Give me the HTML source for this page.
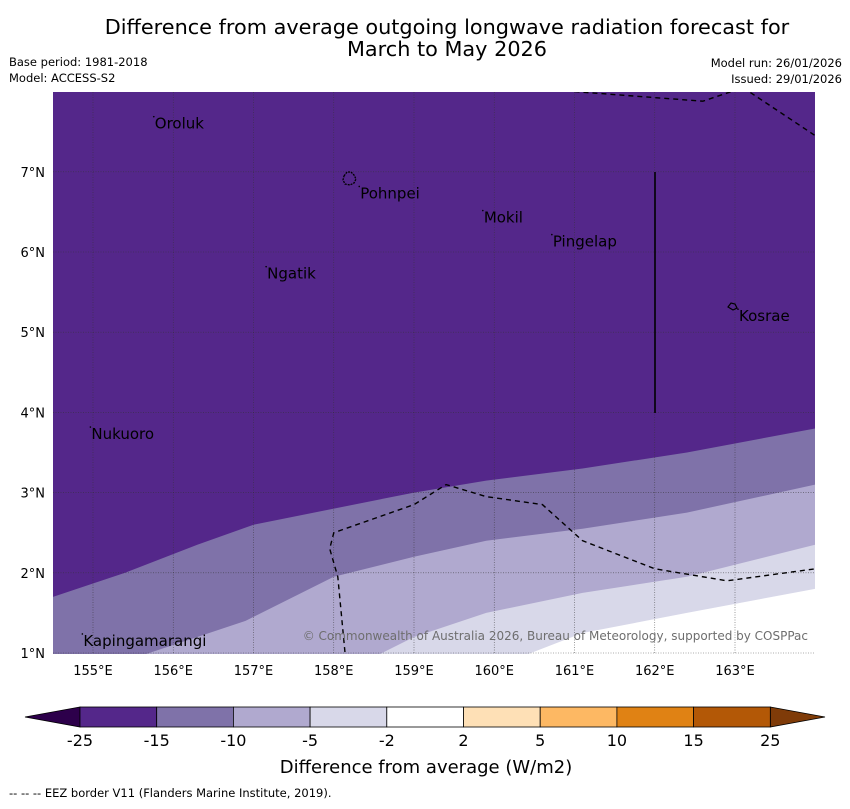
<!DOCTYPE html>
<html><head><meta charset="utf-8">
<style>
body{margin:0;background:#fff;font-family:"Liberation Sans","DejaVu Sans",sans-serif;}
svg text{font-family:"DejaVu Sans","Liberation Sans",sans-serif;}
</style></head>
<body>
<svg id="chart" width="850" height="804" viewBox="0 0 850 804">
<text x="447" y="34" font-size="20.8" text-anchor="middle">Difference from average outgoing longwave radiation forecast for</text>
<text x="447" y="56" font-size="20.8" text-anchor="middle">March to May 2026</text>
<text x="9" y="66" font-size="11.5">Base period: 1981-2018</text>
<text x="9" y="82" font-size="11.5">Model: ACCESS-S2</text>
<text x="842" y="67" font-size="11.5" text-anchor="end">Model run: 26/01/2026</text>
<text x="842" y="83" font-size="11.5" text-anchor="end">Issued: 29/01/2026</text>
<defs><clipPath id="mapclip"><rect x="53" y="92" width="762" height="562"/></clipPath></defs>
<g id="map" clip-path="url(#mapclip)">
<rect x="53" y="92" width="762" height="562" fill="#54278a"/>
<g id="bands"></g>
<g id="grid"></g>
<g id="eez"></g>
</g>
<g id="axes"></g>
<line x1="655" y1="172" x2="655" y2="413" stroke="#000" stroke-width="1.6"/>
<g id="places"></g>
<path d="M344,176 l3,-4 4,0 3,3 2,4 -2,4 -4,2 -5,-1 -2,-4z" fill="none" stroke="#000" stroke-width="1.3" stroke-dasharray="2,1"/>
<path d="M728,307 l3,-4 4,1 2,4 -4,2z" fill="none" stroke="#000" stroke-width="1.2"/>
<text x="808" y="640" font-size="12" fill="#6e6e6e" text-anchor="end">© Commonwealth of Australia 2026, Bureau of Meteorology, supported by COSPPac</text>
<g id="colorbar"></g>
<text x="426" y="773" font-size="18" text-anchor="middle">Difference from average (W/m2)</text>
<text x="9" y="797" font-size="11.5">--  --  -- EEZ border V11 (Flanders Marine Institute, 2019).</text>
</svg>
<script>
const lonTicks=[155,156,157,158,159,160,161,162,163];
const latTicks=[1,2,3,4,5,6,7];
const bandColors=["#7f72a9","#b0a9cf","#d8d8e9","#ffffff"];
const bandNames=["band-minus15-to-minus10","band-minus10-to-minus5","band-minus5-to-minus2","band-minus2-to-2"];
const contour1=[[154.5,1.7],[155.4,2.0],[156.3,2.35],[157.0,2.6],[158.0,2.8],[159.0,3.0],[159.9,3.15],[161.1,3.3],[162.4,3.5],[164.0,3.8]];
const contour2=[[155.4,0.9],[156.9,1.4],[158.0,1.95],[159.0,2.2],[159.9,2.4],[161.1,2.55],[162.4,2.75],[164.0,3.1]];
const contour3=[[158.4,0.9],[159.0,1.2],[159.9,1.5],[161.1,1.75],[162.4,1.95],[164.0,2.35]];
const contour4=[[160.2,0.9],[161.1,1.25],[162.4,1.5],[164.0,1.8]];
const eezMain=[[158.15,0.9],[158.05,1.95],[157.95,2.3],[158.0,2.5],[159.0,2.85],[159.4,3.1],[159.9,2.95],[160.6,2.85],[161.1,2.4],[162.0,2.05],[162.9,1.9],[164.0,2.05]];
const eezTop=[[161.0,8.0],[162.6,7.88],[163.1,8.05],[164.0,7.45]];
const placeNames=["Oroluk","Pohnpei","Mokil","Pingelap","Ngatik","Kosrae","Nukuoro","Kapingamarangi"];
const placeLon=[155.77,158.33,159.87,160.73,157.17,163.05,154.98,154.88];
const placeLat=[7.6,6.73,6.43,6.13,5.73,5.2,3.73,1.15];
const cbLabels=["-25","-15","-10","-5","-2","2","5","10","15","25"];
const cbColors=["#54278a","#7f72a9","#b0a9cf","#d8d8e9","#ffffff","#fee0b6","#fdb863","#e08214","#b35806"];
const X=lon=>93+(lon-155)*80.25, Y=lat=>653-(lat-1)*80.2;
const NS="http://www.w3.org/2000/svg";
function mk(tag,attrs,parent){const e=document.createElementNS(NS,tag);for(const k in attrs)e.setAttribute(k,attrs[k]);parent.appendChild(e);return e;}
const pts=a=>a.map(p=>X(p[0]).toFixed(1)+","+Y(p[1]).toFixed(1));
const bands=document.getElementById('bands');
[contour1,contour2,contour3,contour4].forEach((c,i)=>{
  const d="M"+pts(c).join(" L")+" L"+X(164.2)+","+Y(0.8)+" L"+X(154.4)+","+Y(0.8)+" L"+X(154.4)+","+Y(c[0][1])+"Z";
  const p=mk('path',{d:d,fill:bandColors[i]},bands);
  
  
});
const grid=document.getElementById('grid'),axes=document.getElementById('axes');
lonTicks.forEach(l=>{
  const g=mk('line',{x1:X(l),x2:X(l),y1:92,y2:654,stroke:"#333",'stroke-width':0.6,'stroke-dasharray':'1,1.5','stroke-opacity':0.8},grid);
  
  
  const t=mk('text',{x:X(l),y:675,'font-size':13,'text-anchor':'middle'},axes);t.textContent=l+"°E";
  
  
});
latTicks.forEach(l=>{
  const g=mk('line',{x1:53,x2:815,y1:Y(l),y2:Y(l),stroke:"#333",'stroke-width':0.6,'stroke-dasharray':'1,1.5','stroke-opacity':0.8},grid);
  
  
  const t=mk('text',{x:45,y:Y(l)+5,'font-size':13,'text-anchor':'end'},axes);t.textContent=l+"°N";
  
  
});
const eez=document.getElementById('eez');
[eezMain,eezTop].forEach((c,i)=>{
  const p=mk('polyline',{points:pts(c).join(" "),fill:"none",stroke:"#000",'stroke-width':1.4,'stroke-dasharray':'5,4'},eez);
  
  
});
const pl=document.getElementById('places');
placeNames.forEach((n,i)=>{
  const t=mk('text',{x:X(placeLon[i]),y:Y(placeLat[i])+5,'font-size':15},pl);t.textContent=n;
  
  
  const d=mk('circle',{cx:X(placeLon[i])-1,cy:Y(placeLat[i])-7,r:0.8,fill:'#000'},pl);
  
  
});
const cb=document.getElementById('colorbar');
const x0=80,w=76.7,y0=707,h=20;
const lt=mk('polygon',{points:`${x0},${y0} 25,${y0+h/2} ${x0},${y0+h}`,fill:'#2d004b',stroke:'#000','stroke-width':0.8},cb);


const rx=x0+w*cbColors.length;
const rt=mk('polygon',{points:`${rx},${y0} 825,${y0+h/2} ${rx},${y0+h}`,fill:'#7f3b08',stroke:'#000','stroke-width':0.8},cb);


cbColors.forEach((c,i)=>{
  const r=mk('rect',{x:x0+i*w,y:y0,width:w,height:h,fill:c,stroke:'#000','stroke-width':0.8},cb);
  
  
});
cbLabels.forEach((s,i)=>{
  const t=mk('text',{x:x0+i*w,y:746,'font-size':16,'text-anchor':'middle'},cb);t.textContent=s;
  
  
});
</script>
</body></html>
